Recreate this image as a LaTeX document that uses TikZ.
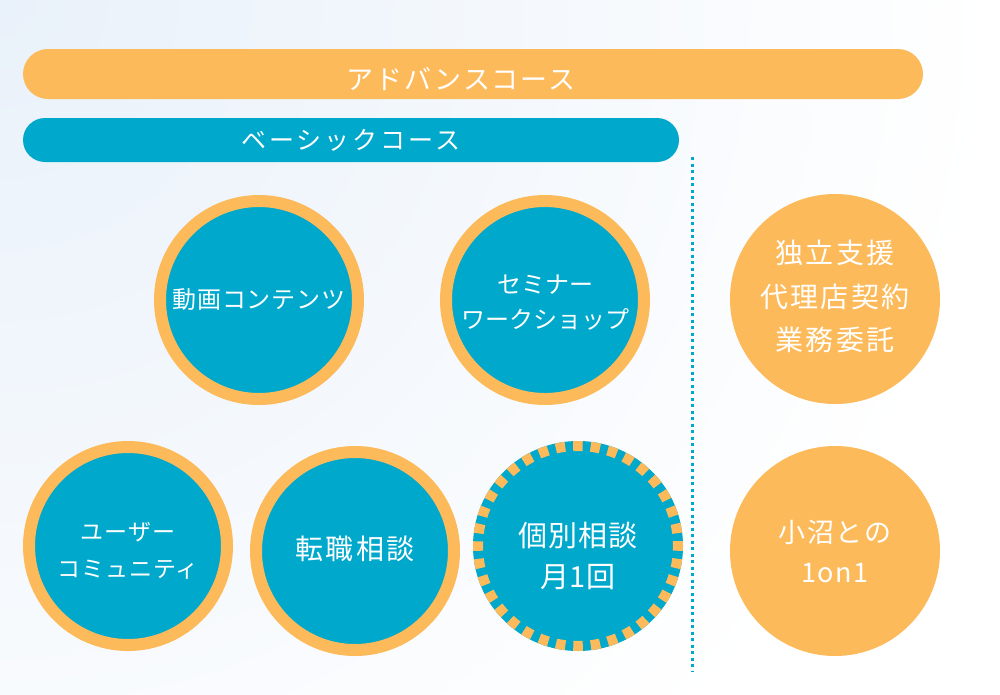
\documentclass[tikz,border=0pt]{standalone}
\usepackage{fontspec}
\setmainfont{Noto Sans CJK JP}
\usetikzlibrary{shapes.misc}
\definecolor{cOr}{RGB}{253,186,90}
\definecolor{cBl}{RGB}{0,168,204}
\definecolor{bgb}{RGB}{233,241,250}
\newcommand\jfnt[3]{\fontsize{#1}{#2}\selectfont\addfontfeature{LetterSpace=#3}}
\begin{document}
\begin{tikzpicture}[x=1pt,y=-1pt,
  bar/.style={rounded rectangle, inner sep=0pt, outer sep=0pt},
  wtext/.style={text=white, align=center, inner sep=0pt},
  ring/.style={circle, fill=cBl, draw=cOr, line width=12pt, minimum size=198pt, inner sep=0pt},
  orb/.style={circle, fill=cOr, minimum size=210pt, inner sep=0pt},
  plainorb/.style={circle, fill=cBl, minimum size=210pt, inner sep=0pt}]
\useasboundingbox (0,0) rectangle (1000,694);
\begin{scope}
\clip (0,0) rectangle (1000,694);
\fill[white] (0,0) rectangle (1000,694);
\shade[inner color=bgb, outer color=white] (0,0) circle (1000);
\end{scope}
% bars
\node[bar, fill=cOr, minimum width=900pt, minimum height=50pt] (adv) at (473,74) {};
\node[wtext, font=\jfnt{27}{30}{7}] (advt) at ([xshift=-12pt,yshift=-5pt]adv.center) {アドバンスコース};
\node[bar, fill=cBl, minimum width=656pt, minimum height=44pt] (bas) at (351,140) {};
\node[wtext, font=\jfnt{25}{28}{12}] (bast) at (bas.center) {ベーシックコース};
% divider
\coordinate (d1) at (692,157);
\coordinate (d2) at (692,672);
\draw[cBl, line width=3pt, dash pattern=on 3pt off 3.5pt] (d1) -- (d2);
% circles
\node[ring] (A) at (259,300) {};
\node[wtext, font=\jfnt{24}{28}{3}] (At) at (A.center) {動画コンテンツ};
\node[ring] (B) at (545,300) {};
\node[wtext, font=\jfnt{24}{35}{0}] (Bt) at ([yshift=-3pt]B.center) {セミナー\\ワークショップ};
\node[ring] (C) at (128,546) {};
\node[wtext, font=\jfnt{23}{37}{4}] (Ct) at ([yshift=-4.5pt]C.center) {ユーザー\\コミュニティ};
\node[ring] (D) at (355,551) {};
\node[wtext, font=\jfnt{28}{30}{8}] (Dt) at ([yshift=2pt]D.center) {転職相談};
\node[plainorb] (E) at (578,546) {};
\draw[cOr, line width=10pt, dash pattern=on 9.5pt off 7.95pt, dash phase=4.75pt] (E.center) circle (100);
\node[wtext, font=\jfnt{29}{41}{3}] (Et) at ([yshift=-9.5pt]E.center) {個別相談\\月1回};
\node[orb] (F) at (835,299) {};
\node[wtext, font=\jfnt{28}{43.5}{8}] (Ft) at ([yshift=2.5pt]F.center) {独立支援\\代理店契約\\業務委託};
\node[orb] (G) at (835,551) {};
\node[wtext, font=\jfnt{27}{40}{6}] (Gt) at (G.center) {小沼との\\1on1};
\end{tikzpicture}
\end{document}
